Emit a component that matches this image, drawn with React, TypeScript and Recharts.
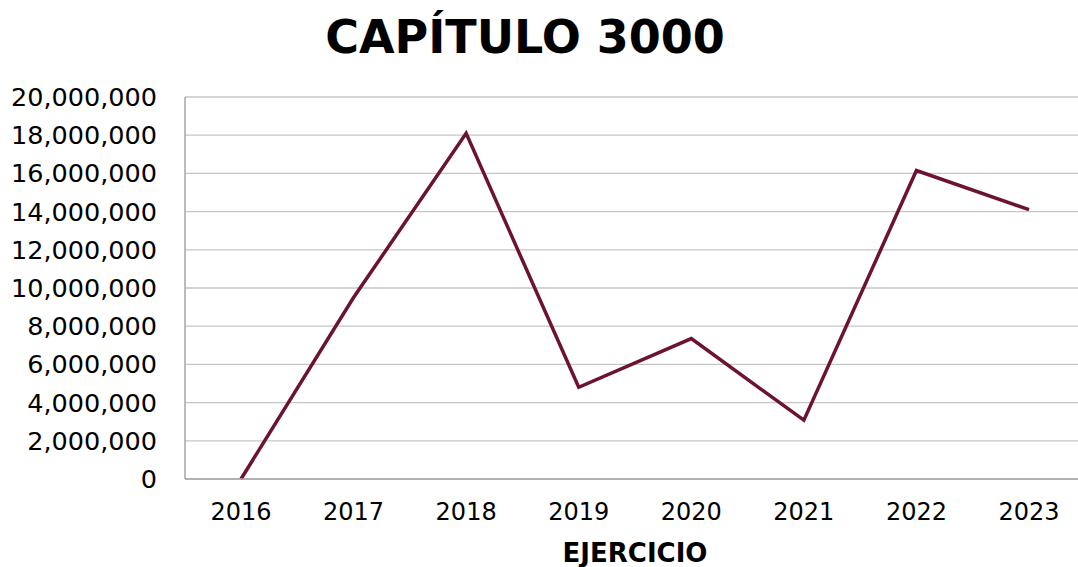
import React from "react";
import { LineChart, Line, XAxis, YAxis, CartesianGrid } from "recharts";

const years = ["2016", "2017", "2018", "2019", "2020", "2021", "2022", "2023"];
const amounts = [0, 9500000, 18100000, 4800000, 7350000, 3080000, 16150000, 14100000];
const yTicks = [0, 2000000, 4000000, 6000000, 8000000, 10000000, 12000000, 14000000, 16000000, 18000000, 20000000];

const data = years.map((y, i) => ({ year: y, value: amounts[i] }));

const FONT = "'DejaVu Sans', sans-serif";

export default function App() {
  return (
    <div style={{ position: "absolute", left: 0, top: 0, width: 1078, height: 567, overflow: "hidden", background: "#fff", fontFamily: FONT }}>
      <div style={{ position: "absolute", left: 0, width: 1050, top: 8, textAlign: "center", fontSize: 46, fontWeight: "bold", color: "#000", lineHeight: "58px" }}>
        CAPÍTULO 3000
      </div>
      <div style={{ position: "absolute", left: 0, width: 1270, top: 537, textAlign: "center", fontSize: 26, fontWeight: "bold", color: "#000", lineHeight: "32px" }}>
        EJERCICIO
      </div>
      <div style={{ position: "absolute", left: 0, top: 0 }}>
        <LineChart width={1085} height={567} data={data} margin={{ top: 97, right: 0, bottom: 0, left: 0 }}>
          <CartesianGrid vertical={false} stroke="#c6c6c6" strokeWidth={1.3} />
          <XAxis
            dataKey="year"
            height={88}
            padding={{ left: 56, right: 56 }}
            tickLine={false}
            axisLine={{ stroke: "#a6a6a6", strokeWidth: 1.5 }}
            tick={{ fill: "#000", fontSize: 24, fontFamily: FONT }}
            tickSize={0}
            tickMargin={24}
            interval={0}
          />
          <YAxis
            width={185}
            domain={[0, 20000000]}
            ticks={yTicks}
            tickLine={false}
            axisLine={{ stroke: "#a6a6a6", strokeWidth: 1.5 }}
            tick={{ fill: "#000", fontSize: 25.5, fontFamily: FONT }}
            tickSize={0}
            tickMargin={28}
            tickFormatter={(v: number) => v.toLocaleString("en-US")}
            interval={0}
          />
          <Line type="linear" dataKey="value" stroke="#6b1235" strokeWidth={3.5} dot={false} isAnimationActive={false} />
        </LineChart>
      </div>
    </div>
  );
}
